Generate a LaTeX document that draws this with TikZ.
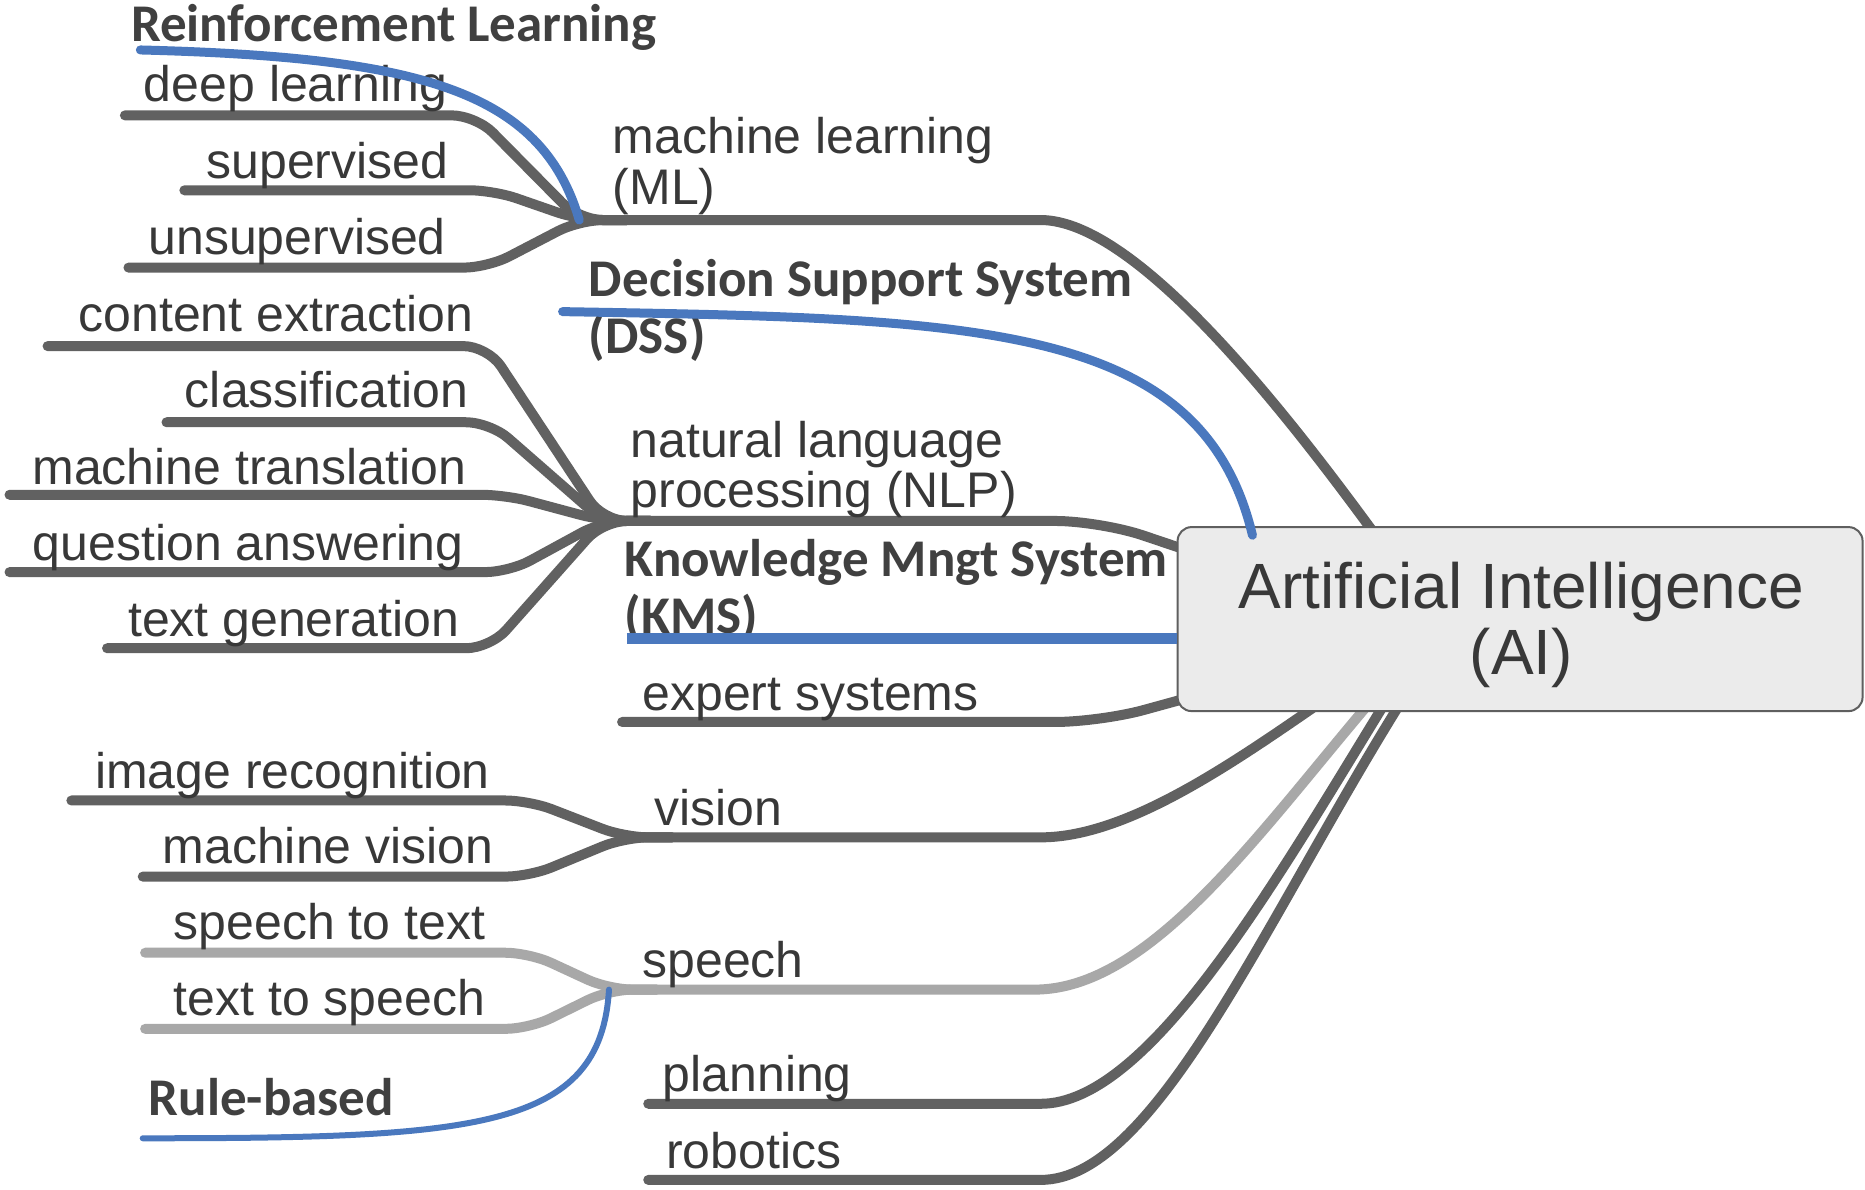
\documentclass[tikz,border=0pt]{standalone}
\usepackage{fontspec}
\newfontfamily\labfont{Liberation Sans}
\newfontfamily\boldfont{Carlito}
\definecolor{lineg}{HTML}{616161}
\definecolor{lightg}{HTML}{A8A8A8}
\definecolor{blueln}{HTML}{4A78BE}
\definecolor{txtg}{HTML}{383838}
\definecolor{btxt}{HTML}{404040}
\definecolor{boxfill}{HTML}{EBEBEB}
\definecolor{boxdraw}{HTML}{5F5F5F}
\begin{document}
\begin{tikzpicture}[x=1.1894pt,y=-1.1894pt,
  lab/.style={font=\labfont\fontsize{50}{58}\selectfont, text=txtg, inner sep=0pt},
  leftlab/.style={lab, anchor=base east},
  mainlab/.style={lab, anchor=base west},
  boldlab/.style={font=\boldfont\bfseries\fontsize{53}{58}\selectfont, text=btxt, inner sep=0pt, anchor=base west},
  child/.style={draw=lineg, line width=10pt, line cap=round, line join=round, rounded corners=24pt},
  lchild/.style={child, draw=lightg},
  mainbr/.style={draw=lineg, line width=10pt, line cap=round, line join=round, rounded corners=45pt},
  curvebr/.style={draw=lineg, line width=10pt, line cap=round, line join=round},
  lcurvebr/.style={curvebr, draw=lightg},
  blu/.style={draw=blueln, line width=9pt, line cap=round},
  aibox/.style={draw=boxdraw, fill=boxfill, line width=2pt, rounded corners=14pt,
    minimum width=685pt, minimum height=184pt, inner sep=0pt},
  aitext/.style={align=center, inner sep=0pt,
    font=\labfont\fontsize{64}{66}\selectfont, text=txtg}
]
\useasboundingbox[fill=white] (0,0) rectangle (1568,1000);

% junctions and free ends
\coordinate (jML) at (487,185);
\coordinate (jNLP) at (507,438);
\coordinate (jV) at (525,704);
\coordinate (jS) at (512,832);
\coordinate (dlS) at (105,97);
\coordinate (suS) at (155,160);
\coordinate (unS) at (108,225);
\coordinate (ceS) at (40,291);
\coordinate (clS) at (140,355);
\coordinate (mtS) at (8,416);
\coordinate (qaS) at (8,481);
\coordinate (tgS) at (90,545);
\coordinate (irS) at (60,673);
\coordinate (mvS) at (120,737);
\coordinate (stS) at (122,801);
\coordinate (tsS) at (122,865);
\coordinate (esS) at (523,607);
\coordinate (plS) at (545,928);
\coordinate (roS) at (545,992);
\coordinate (rlS) at (118,42);
\coordinate (dssS) at (473,262);
\coordinate (dssE) at (1053,450);
\coordinate (kmsS) at (527,537);
\coordinate (rbE) at (120,957);
\coordinate (mlE) at (1158,452);
\coordinate (viE) at (1104,595);
\coordinate (spE) at (1148,595);
\coordinate (plE) at (1162,595);
\coordinate (roE) at (1175,595);

% main branches
\draw[curvebr] (jML) -- (875,185) .. controls (955,185) and (1080,345) .. (mlE);
\draw[mainbr] (jNLP) -- (925,438) -- (1005,465);
\draw[mainbr] (esS) -- (925,607) -- (1005,585);
\draw[curvebr] (jV) -- (875,704) .. controls (945,704) and (1030,646) .. (viE);
\draw[lcurvebr] (jS) -- (870,832) .. controls (965,832) and (1055,705) .. (spE);
\draw[curvebr] (plS) -- (875,928) .. controls (965,928) and (1070,745) .. (plE);
\draw[curvebr] (roS) -- (875,992) .. controls (970,992) and (1061,779) .. (roE);

% children
\draw[child] (dlS) -- (400,97) -- (jML) -- ++(40,0);
\draw[child] (suS) -- (415,160) -- (jML) -- ++(40,0);
\draw[child] (unS) -- (410,225) -- (jML) -- ++(40,0);
\draw[child] (ceS) -- (410,291) -- (jNLP) -- ++(40,0);
\draw[child] (clS) -- (412,355) -- (jNLP) -- ++(40,0);
\draw[child] (mtS) -- (425,416) -- (jNLP) -- ++(40,0);
\draw[child] (qaS) -- (428,481) -- (jNLP) -- ++(40,0);
\draw[child] (tgS) -- (412,545) -- (jNLP) -- ++(40,0);
\draw[child] (irS) -- (445,673) -- (jV) -- ++(40,0);
\draw[child] (mvS) -- (445,737) -- (jV) -- ++(40,0);
\draw[lchild] (stS) -- (445,801) -- (jS) -- ++(40,0);
\draw[lchild] (tsS) -- (445,865) -- (jS) -- ++(40,0);

% labels
\node[leftlab] (dl) at (376,85) {deep learning};
\node[leftlab] (su) at (377,150) {supervised};
\node[leftlab] (un) at (375,214) {unsupervised};
\node[leftlab] (ce) at (398,279) {content extraction};
\node[leftlab] (cl) at (394,343) {classification};
\node[leftlab] (mt) at (392,407) {machine translation};
\node[leftlab] (qa) at (390,471) {question answering};
\node[leftlab] (tg) at (386,535) {text generation};
\node[leftlab] (ir) at (412,663) {image recognition};
\node[leftlab] (mv) at (415,726) {machine vision};
\node[leftlab] (st) at (408,790) {speech to text};
\node[leftlab] (ts) at (408,854) {text to speech};
\node[mainlab] (mlA) at (515,129) {machine learning};
\node[mainlab] (mlB) at (515,172) {(ML)};
\node[mainlab] (nlpA) at (530,385) {natural language};
\node[mainlab] (nlpB) at (530,427) {processing (NLP)};
\node[mainlab] (es) at (540,597) {expert systems};
\node[mainlab] (vi) at (550,694) {vision};
\node[mainlab] (sp) at (540,822) {speech};
\node[mainlab] (pl) at (557,918) {planning};
\node[mainlab] (ro) at (560,982) {robotics};
\node[boldlab] (rl) at (110,35) {Reinforcement Learning};
\node[boldlab] (dssA) at (495,249) {Decision Support System};
\node[boldlab] (dssB) at (495,297) {(DSS)};
\node[boldlab] (kmsA) at (525,485) {Knowledge Mngt System};
\node[boldlab] (kmsB) at (525,533) {(KMS)};
\node[boldlab] (rb) at (125,938) {Rule-based};

% central box
\node[aibox] (ai) at (1278,520.5) {};
\node[aitext] (ait) at (1279,525) {Artificial Intelligence\\(AI)};

% blue annotations
\draw[blu] (rlS) .. controls (350,48) and (455,75) .. (jML);
\draw[blu] (dssS) .. controls (820,268) and (1010,270) .. (dssE);
\draw[blu, line width=10.5pt, line cap=butt] (kmsS) -- (ai.west |- kmsS);
\draw[blu, line width=6pt] (jS) .. controls (505,950) and (400,957) .. (rbE);
\end{tikzpicture}
\end{document}
